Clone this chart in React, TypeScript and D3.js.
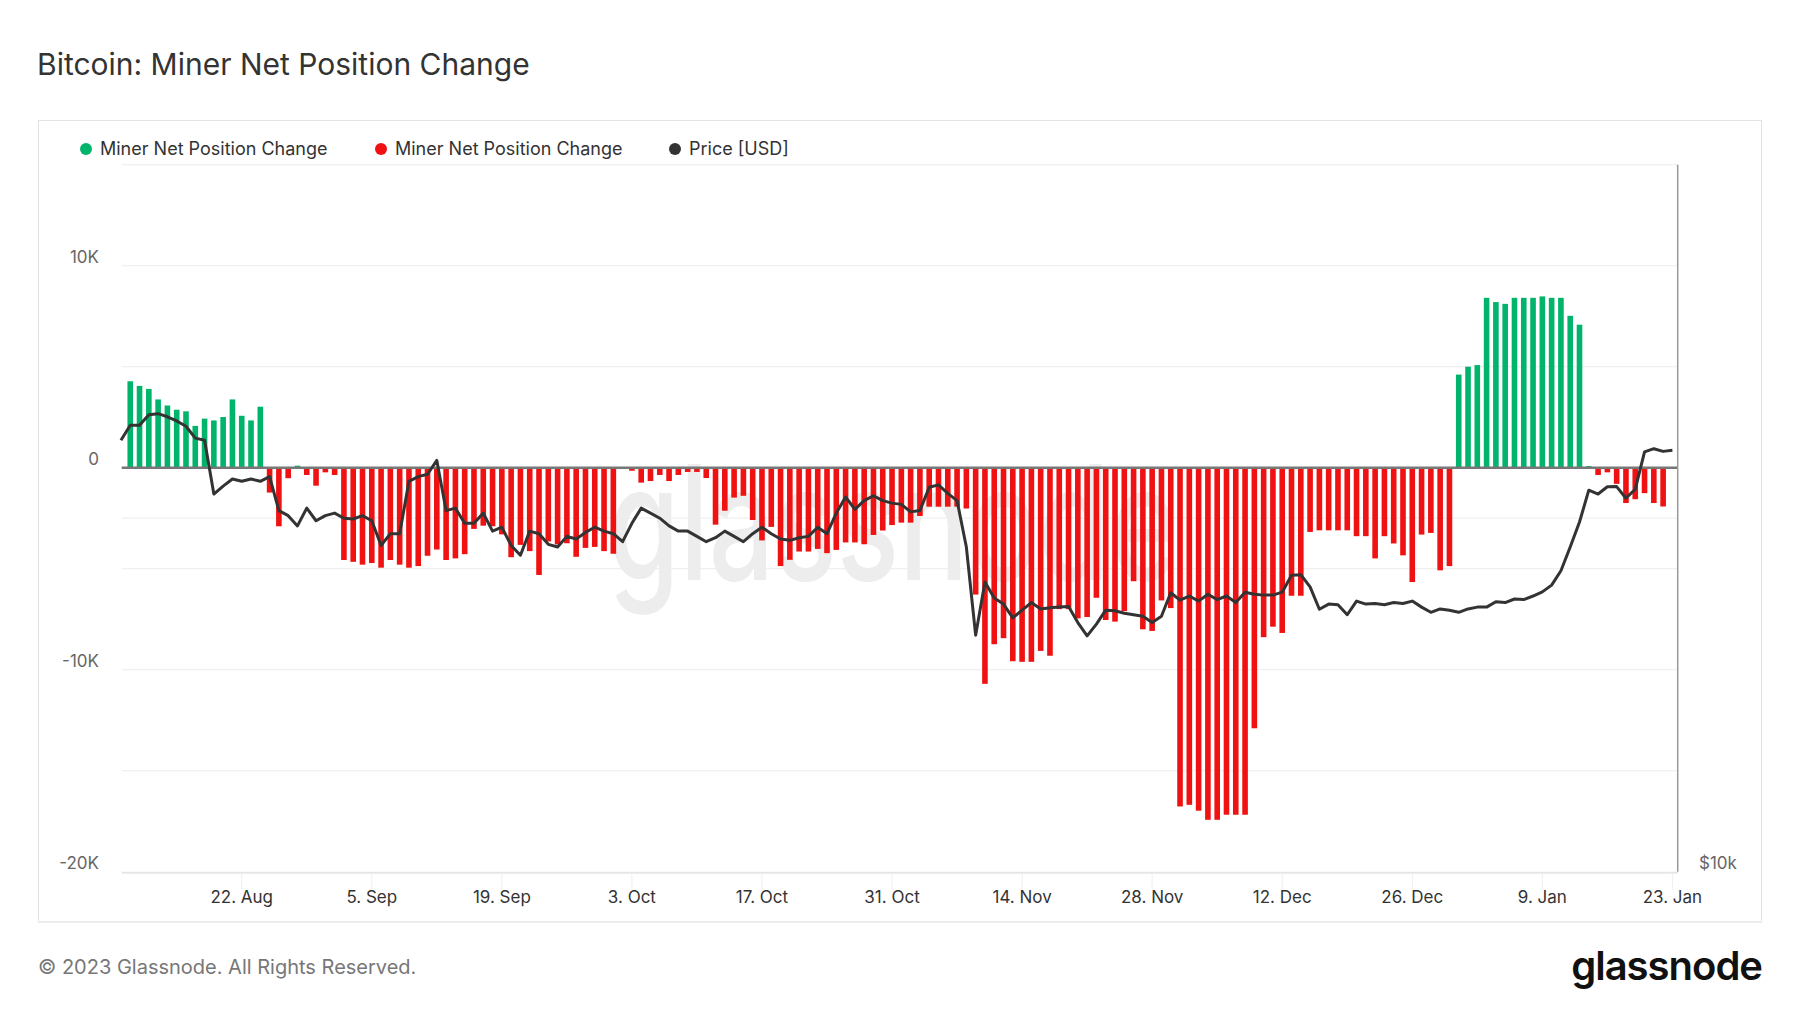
import { useMemo } from "react";
import * as d3 from "d3";

const WIDTH = 1800;
const HEIGHT = 1013;
const FONT = "Inter, 'Noto Sans', sans-serif";

// net position change per day [BTC], from 10 Aug 2022
const barStart = Date.UTC(2022, 7, 10);
const netPositionChange = [
    4280, 4050, 3900, 3380, 3080, 2870, 2790, 2070, 2430, 2340, 2510, 3380, 2570, 2340, 3020,
    -1230, -2900, -520, 100, -360, -890, -230, -360, -4570, -4660, -4800, -4720, -4950, -4570,
    -4800, -4950, -4870, -4360, -4050, -4570, -4490, -4280, -3030, -2870, -2900, -3300, -4430,
    -3820, -4130, -5310, -3650, -3800, -3740, -4410, -3970, -3920, -4130, -4260, 0, -150, -740,
    -660, -360, -660, -360, -210, -210, -510, -2820, -2130, -1480, -1390, -2590, -3600, -2930,
    -4870, -4560, -4150, -4150, -4020, -4230, -4070, -3700, -3700, -3790, -3330, -3110, -2840,
    -2720, -2720, -2390, -1930, -1930, -1930, -1930, -2020, -6280, -10700, -8740, -8440, -9580,
    -9610, -9610, -9070, -9310, -7000, -7000, -7460, -7390, -6440, -7540, -7620, -7100, -5620,
    -8000, -8080, -6570, -6950, -16770, -16690, -16980, -17430, -17430, -17180, -17180, -17180,
    -12900, -8390, -7870, -8180, -6340, -6340, -3180, -3100, -3100, -3100, -3100, -3390, -3390,
    -4490, -3390, -3750, -4340, -5660, -3310, -3230, -5080, -4870, 4610, 5000, 5080, 8410, 8200,
    8110, 8410, 8410, 8410, 8480, 8410, 8410, 7520, 7080, 80, -360, -230, -800, -1750, -1560,
    -1260, -1750, -1920
];

// BTC price [USD], from 9 Aug 2022
const priceStart = Date.UTC(2022, 7, 9);
const priceUsd = [
    23300, 24000, 24000, 24500, 24550, 24400, 24200, 23950, 23400, 23300, 20970, 21300, 21600,
    21500, 21600, 21500, 21700, 20300, 20100, 19700, 20400, 19900, 20100, 20200, 20000, 19970,
    20100, 19900, 18960, 19400, 19400, 21500, 21700, 21800, 22400, 20300, 20400, 19800, 19800,
    20200, 19500, 19650, 18960, 18600, 19500, 19400, 19000, 18900, 19300, 19200, 19450, 19650,
    19500, 19400, 19100, 19800, 20400, 20200, 20000, 19700, 19500, 19500, 19300, 19100, 19250,
    19500, 19300, 19100, 19400, 19650, 19400, 19200, 19150, 19250, 19300, 19650, 19400, 20200,
    20850, 20350, 20700, 20900, 20700, 20600, 20550, 20250, 20300, 21250, 21350, 21000, 20700,
    18900, 15900, 17650, 17100, 16900, 16450, 16700, 16950, 16740, 16780, 16800, 16820, 16300,
    15880, 16250, 16700, 16680, 16600, 16550, 16500, 16300, 16500, 17280, 17030, 17170, 17000,
    17230, 17050, 17170, 16950, 17300, 17230, 17200, 17200, 17300, 17880, 17900, 17480, 16730,
    16900, 16880, 16550, 17000, 16900, 16920, 16880, 16950, 16920, 17000, 16800, 16630, 16740,
    16700, 16630, 16740, 16800, 16800, 16980, 16950, 17070, 17050, 17170, 17310, 17540, 18040,
    18900, 19850, 21130, 20970, 21270, 21280, 20800, 21170, 22780, 22920, 22800, 22850
];

const xTickDates = ["2022-08-22", "2022-09-05", "2022-09-19", "2022-10-03", "2022-10-17", "2022-10-31",
    "2022-11-14", "2022-11-28", "2022-12-12", "2022-12-26", "2023-01-09", "2023-01-23"];
const xTickLabels = ["22. Aug", "5. Sep", "19. Sep", "3. Oct", "17. Oct", "31. Oct",
    "14. Nov", "28. Nov", "12. Dec", "26. Dec", "9. Jan", "23. Jan"];
const yGridValues = [-15000, -10000, -5000, 5000, 10000, 15000];
const yTickValues = [-20000, -10000, 0, 10000];
const priceGridValues = [20000];

const DAY = 86400000;
const PLOT = { left: 121.7, right: 1677.7, top: 164.7, bottom: 871.7 };
const GREEN = "#00b46b";
const RED = "#f01212";

const legendItems = [
    { label: "Miner Net Position Change", color: GREEN, x: 86 },
    { label: "Miner Net Position Change", color: RED, x: 381 },
    { label: "Price [USD]", color: "#333333", x: 675 }
];

const fmtK = (v: number) => (v === 0 ? "0" : `${v / 1000}K`);

export default function App() {
    const x = useMemo(
        () =>
            d3
                .scaleUtc()
                .domain([new Date(priceStart + 0.08 * DAY), new Date(Date.UTC(2023, 0, 23) + 0.57 * DAY)])
                .range([PLOT.left, PLOT.right]),
        []
    );
    const y = useMemo(() => d3.scaleLinear().domain([-20000, 15000]).range([PLOT.bottom, PLOT.top]), []);
    const yPrice = useMemo(() => d3.scaleLog().domain([10000, 40000]).range([PLOT.bottom, PLOT.top]), []);

    const bars = netPositionChange.map((v, i) => ({ date: new Date(barStart + i * DAY), value: v }));
    const prices = priceUsd.map((v, i) => ({ date: new Date(priceStart + i * DAY), value: v }));

    const linePath = d3
        .line<{ date: Date; value: number }>()
        .x(d => x(d.date))
        .y(d => yPrice(d.value))(prices);

    const barWidth = 5.6;

    return (
        <div style={{ position: "absolute", left: 0, top: 0 }}>
            <svg width={WIDTH} height={HEIGHT} style={{ display: "block", background: "#fff" }} fontFamily={FONT}>
                <text x={37} y={75} fontSize={30} fontWeight={400} fill="#333">
                    Bitcoin: Miner Net Position Change
                </text>

                <rect x={38.5} y={120.5} width={1723} height={801} fill="none" stroke="#e3e3e3" strokeWidth={1} />
                <line x1={38} x2={1762} y1={922} y2={922} stroke="#ececec" strokeWidth={2} />

                {legendItems.map((item, i) => (
                    <g key={i} transform={`translate(${item.x}, 149)`}>
                        <circle r={6} fill={item.color} />
                        <text x={14} dy="0.35em" fontSize={18} fill="#333">
                            {item.label}
                        </text>
                    </g>
                ))}

                {yGridValues.map(v => (
                    <line key={v} x1={PLOT.left} x2={PLOT.right} y1={y(v)} y2={y(v)} stroke="#f0f0f0" strokeWidth={1.2} />
                ))}
                {priceGridValues.map(v => (
                    <line key={v} x1={PLOT.left} x2={PLOT.right} y1={yPrice(v)} y2={yPrice(v)} stroke="#f0f0f0" strokeWidth={1.2} />
                ))}

                <text
                    x={608}
                    y={580}
                    fontSize={160}
                    fontWeight={500}
                    fill="#ededed"
                    textLength={570}
                    lengthAdjust="spacingAndGlyphs"
                >
                    glassnode
                </text>

                {bars.map((d, i) => (
                    <rect
                        key={i}
                        x={x(d.date) - barWidth / 2}
                        y={Math.min(y(d.value), y(0))}
                        width={barWidth}
                        height={Math.abs(y(d.value) - y(0))}
                        fill={d.value >= 0 ? GREEN : RED}
                    />
                ))}

                <line x1={PLOT.left} x2={PLOT.right} y1={y(0)} y2={y(0)} stroke="#777" strokeWidth={2.5} />
                <line x1={PLOT.left} x2={PLOT.right} y1={PLOT.bottom + 1} y2={PLOT.bottom + 1} stroke="#e6e6e6" strokeWidth={2} />
                <line x1={PLOT.right} x2={PLOT.right} y1={PLOT.top} y2={PLOT.bottom} stroke="#999" strokeWidth={1.5} />

                <path d={linePath ?? ""} fill="none" stroke="#333" strokeWidth={3} strokeLinejoin="round" />

                {yTickValues.map(v => (
                    <text key={v} x={99} y={y(v) - 3} textAnchor="end" fontSize={17} fill="#666">
                        {fmtK(v)}
                    </text>
                ))}
                <text x={1699} y={PLOT.bottom - 3} fontSize={17} fill="#666">
                    $10k
                </text>

                {xTickDates.map((s, i) => {
                    const tx = x(new Date(s + "T00:00:00Z"));
                    return (
                        <g key={s}>
                            <line x1={tx} x2={tx} y1={PLOT.bottom + 2} y2={PLOT.bottom + 18} stroke="#eeeeee" />
                            <text x={tx} y={903} textAnchor="middle" fontSize={17} fill="#333">
                                {xTickLabels[i]}
                            </text>
                        </g>
                    );
                })}

                <text x={38} y={974} fontSize={20} fill="#777">
                    © 2023 Glassnode. All Rights Reserved.
                </text>
                <text x={1762} y={980} textAnchor="end" fontSize={40} fontWeight={600} fill="#111" letterSpacing={-1}>
                    glassnode
                </text>
            </svg>
        </div>
    );
}
